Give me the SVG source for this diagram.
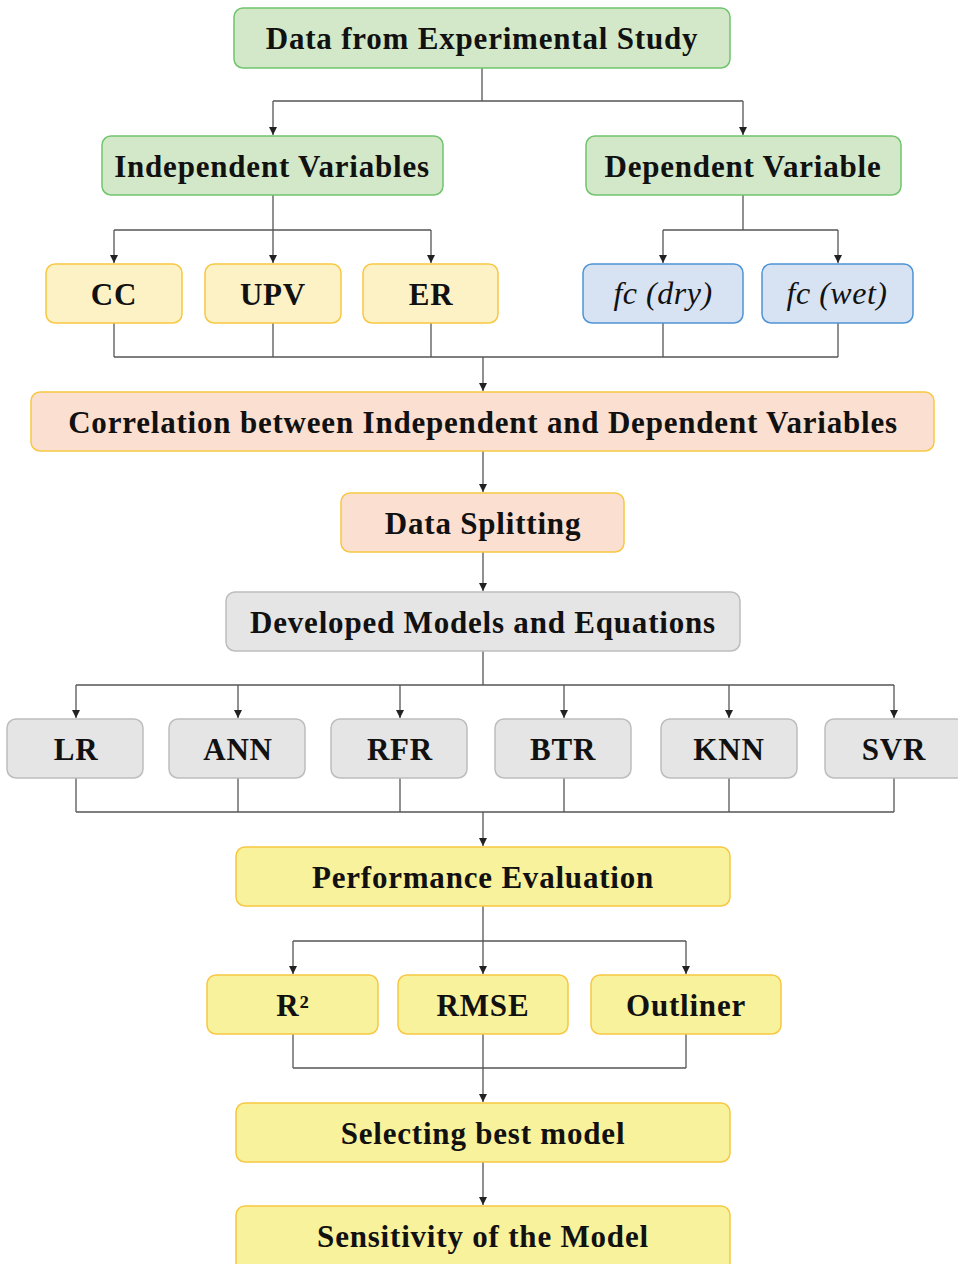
<svg xmlns="http://www.w3.org/2000/svg" width="958" height="1264" viewBox="0 0 958 1264">
<defs>
<marker id="arr" viewBox="0 0 10 10" refX="10" refY="5" markerWidth="8" markerHeight="8" markerUnits="userSpaceOnUse" orient="auto">
<path d="M0,0 L10,5 L0,10 z" fill="#222"/>
</marker>
<style>
.t{font-family:"Palatino Linotype","Book Antiqua",Palatino,"Liberation Serif",serif;font-weight:bold;fill:#111;text-anchor:middle;font-size:31px;letter-spacing:0.8px}
.i{font-family:"Palatino Linotype","Book Antiqua",Palatino,"Liberation Serif",serif;font-style:italic;fill:#111;text-anchor:middle;font-size:32px;letter-spacing:0.5px}
.green{fill:#d3e8c8;stroke:#70c46e;stroke-width:1.5}
.ly{fill:#fdf1c6;stroke:#f8c842;stroke-width:1.5}
.blue{fill:#d7e3f3;stroke:#4f94d4;stroke-width:1.5}
.peach{fill:#fbe0d1;stroke:#f8c842;stroke-width:1.5}
.grey{fill:#e5e5e5;stroke:#bdbdbd;stroke-width:1.5}
.yel{fill:#f9f29c;stroke:#f8c842;stroke-width:1.5}
.c line,.c polyline{stroke:#555;stroke-width:1.3;fill:none}
</style>
</defs>
<rect width="958" height="1264" fill="#fff"/>
<g class="c" id="connectors">
<line x1="482" y1="68" x2="482" y2="101"/>
<line x1="273" y1="101" x2="743" y2="101"/>
<line x1="273" y1="101" x2="273" y2="135" marker-end="url(#arr)"/>
<line x1="743" y1="101" x2="743" y2="135" marker-end="url(#arr)"/>
<line x1="273" y1="195" x2="273" y2="230"/>
<line x1="114" y1="230" x2="431" y2="230"/>
<line x1="114" y1="230" x2="114" y2="263" marker-end="url(#arr)"/>
<line x1="273" y1="230" x2="273" y2="263" marker-end="url(#arr)"/>
<line x1="431" y1="230" x2="431" y2="263" marker-end="url(#arr)"/>
<line x1="743" y1="195" x2="743" y2="230"/>
<line x1="663" y1="230" x2="838" y2="230"/>
<line x1="663" y1="230" x2="663" y2="263" marker-end="url(#arr)"/>
<line x1="838" y1="230" x2="838" y2="263" marker-end="url(#arr)"/>
<line x1="114" y1="323" x2="114" y2="357"/>
<line x1="273" y1="323" x2="273" y2="357"/>
<line x1="431" y1="323" x2="431" y2="357"/>
<line x1="663" y1="323" x2="663" y2="357"/>
<line x1="838" y1="323" x2="838" y2="357"/>
<line x1="114" y1="357" x2="838" y2="357"/>
<line x1="483" y1="357" x2="483" y2="391" marker-end="url(#arr)"/>
<line x1="483" y1="451" x2="483" y2="492" marker-end="url(#arr)"/>
<line x1="483" y1="552" x2="483" y2="591" marker-end="url(#arr)"/>
<line x1="483" y1="651" x2="483" y2="685"/>
<line x1="76" y1="685" x2="894" y2="685"/>
<line x1="76" y1="685" x2="76" y2="718" marker-end="url(#arr)"/>
<line x1="238" y1="685" x2="238" y2="718" marker-end="url(#arr)"/>
<line x1="400" y1="685" x2="400" y2="718" marker-end="url(#arr)"/>
<line x1="564" y1="685" x2="564" y2="718" marker-end="url(#arr)"/>
<line x1="729" y1="685" x2="729" y2="718" marker-end="url(#arr)"/>
<line x1="894" y1="685" x2="894" y2="718" marker-end="url(#arr)"/>
<line x1="76" y1="778" x2="76" y2="812"/>
<line x1="238" y1="778" x2="238" y2="812"/>
<line x1="400" y1="778" x2="400" y2="812"/>
<line x1="564" y1="778" x2="564" y2="812"/>
<line x1="729" y1="778" x2="729" y2="812"/>
<line x1="894" y1="778" x2="894" y2="812"/>
<line x1="76" y1="812" x2="894" y2="812"/>
<line x1="483" y1="812" x2="483" y2="846" marker-end="url(#arr)"/>
<line x1="483" y1="906" x2="483" y2="941"/>
<line x1="293" y1="941" x2="686" y2="941"/>
<line x1="293" y1="941" x2="293" y2="974" marker-end="url(#arr)"/>
<line x1="483" y1="941" x2="483" y2="974" marker-end="url(#arr)"/>
<line x1="686" y1="941" x2="686" y2="974" marker-end="url(#arr)"/>
<line x1="293" y1="1034" x2="293" y2="1068"/>
<line x1="483" y1="1034" x2="483" y2="1068"/>
<line x1="686" y1="1034" x2="686" y2="1068"/>
<line x1="293" y1="1068" x2="686" y2="1068"/>
<line x1="483" y1="1068" x2="483" y2="1102" marker-end="url(#arr)"/>
<line x1="483" y1="1162" x2="483" y2="1205" marker-end="url(#arr)"/>
</g>
<g id="n-data"><rect class="green" x="234" y="8" width="496" height="60" rx="9"/><text class="t" x="482" y="49">Data from Experimental Study</text></g>
<g id="n-indep"><rect class="green" x="102" y="136" width="341" height="59" rx="9"/><text class="t" x="272" y="177">Independent Variables</text></g>
<g id="n-dep"><rect class="green" x="586" y="136" width="315" height="59" rx="9"/><text class="t" x="743" y="177">Dependent Variable</text></g>
<g id="n-cc"><rect class="ly" x="46" y="264" width="136" height="59" rx="9"/><text class="t" x="114" y="305">CC</text></g>
<g id="n-upv"><rect class="ly" x="205" y="264" width="136" height="59" rx="9"/><text class="t" x="273" y="305">UPV</text></g>
<g id="n-er"><rect class="ly" x="363" y="264" width="135" height="59" rx="9"/><text class="t" x="431" y="305">ER</text></g>
<g id="n-fcdry"><rect class="blue" x="583" y="264" width="160" height="59" rx="9"/><text class="i" x="663" y="304">fc (dry)</text></g>
<g id="n-fcwet"><rect class="blue" x="762" y="264" width="151" height="59" rx="9"/><text class="i" x="837" y="304">fc (wet)</text></g>
<g id="n-corr"><rect class="peach" x="31" y="392" width="903" height="59" rx="9"/><text class="t" x="483" y="433">Correlation between Independent and Dependent Variables</text></g>
<g id="n-split"><rect class="peach" x="341" y="493" width="283" height="59" rx="9"/><text class="t" x="483" y="534">Data Splitting</text></g>
<g id="n-models"><rect class="grey" x="226" y="592" width="514" height="59" rx="9"/><text class="t" x="483" y="633">Developed Models and Equations</text></g>
<g id="n-lr"><rect class="grey" x="7" y="719" width="136" height="59" rx="9"/><text class="t" x="76" y="760">LR</text></g>
<g id="n-ann"><rect class="grey" x="169" y="719" width="136" height="59" rx="9"/><text class="t" x="238" y="760">ANN</text></g>
<g id="n-rfr"><rect class="grey" x="331" y="719" width="136" height="59" rx="9"/><text class="t" x="400" y="760">RFR</text></g>
<g id="n-btr"><rect class="grey" x="495" y="719" width="136" height="59" rx="9"/><text class="t" x="563" y="760">BTR</text></g>
<g id="n-knn"><rect class="grey" x="661" y="719" width="136" height="59" rx="9"/><text class="t" x="729" y="760">KNN</text></g>
<g id="n-svr"><rect class="grey" x="825" y="719" width="140" height="59" rx="9"/><text class="t" x="894" y="760">SVR</text></g>
<g id="n-perf"><rect class="yel" x="236" y="847" width="494" height="59" rx="9"/><text class="t" x="483" y="888">Performance Evaluation</text></g>
<g id="n-r2"><rect class="yel" x="207" y="975" width="171" height="59" rx="9"/><text class="t" x="293" y="1016">R²</text></g>
<g id="n-rmse"><rect class="yel" x="398" y="975" width="170" height="59" rx="9"/><text class="t" x="483" y="1016">RMSE</text></g>
<g id="n-outl"><rect class="yel" x="591" y="975" width="190" height="59" rx="9"/><text class="t" x="686" y="1016">Outliner</text></g>
<g id="n-select"><rect class="yel" x="236" y="1103" width="494" height="59" rx="9"/><text class="t" x="483" y="1144">Selecting best model</text></g>
<g id="n-sens"><rect class="yel" x="236" y="1206" width="494" height="66" rx="9"/><text class="t" x="483" y="1247">Sensitivity of the Model</text></g>
</svg>
